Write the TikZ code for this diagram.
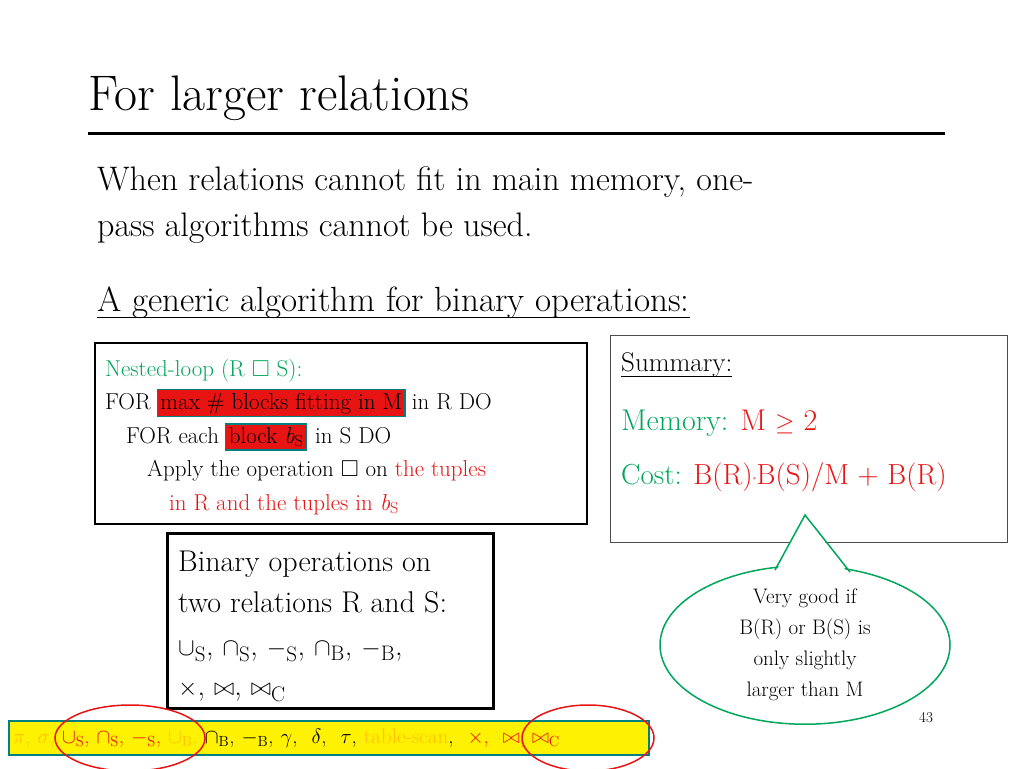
\documentclass[tikz,border=0pt]{standalone}
\usepackage{amsmath}
\usepackage{amssymb}
\usetikzlibrary{shapes.geometric,calc}
\definecolor{slgreen}{RGB}{0,166,90}
\definecolor{slred}{RGB}{232,20,20}
\definecolor{slorange}{RGB}{255,192,0}
\begin{document}
\begin{tikzpicture}[x=1pt,y=-1pt]
    \tikzset{txt/.style={anchor=base west, inner sep=0pt},
             hilite/.style={draw=teal, line width=1.2pt, fill=slred, inner sep=3pt, anchor=base west},
             ring/.style={draw=slred, line width=1.5pt}}
    \useasboundingbox (0,0) rectangle (1024,768);

    % Title
    \node[txt, font=\fontsize{50}{54}\selectfont] (title) at (88,110) {For larger relations};
    \draw[line width=3pt] (88,133) -- (945,133);

    % Intro text
    \node[txt, font=\fontsize{34}{38}\selectfont] (intro1) at (97,190) {When relations cannot fit in main memory, one-};
    \node[txt, font=\fontsize{34}{38}\selectfont] (intro2) at (97,236) {pass algorithms cannot be used.};
    \node[txt, font=\fontsize{35}{38}\selectfont] (generic) at (97,311) {A generic algorithm for binary operations:};
    \draw[line width=1pt] ([yshift=-6pt]generic.base west) -- ([yshift=-6pt]generic.base east);

    % Nested-loop box
    \draw[line width=1.5pt] (95,343) rectangle (587,524);
    \begin{scope}[font=\fontsize{23}{26}\selectfont]
        \node[txt, text=slgreen] (nl) at (105,376) {Nested-loop (R $\square$ S):};
        \node[txt] (for1) at (105,409) {FOR};
        \node[hilite] (maxb) at ([xshift=6pt]for1.base east) {max \# blocks fitting in M};
        \node[txt] (inr) at ([xshift=6pt]maxb.base east) {in R DO};
        \node[txt] (for2) at (126,443) {FOR each};
        \node[hilite] (blk) at ([xshift=6pt]for2.base east) {block \textit{b}\textsubscript{S}};
        \node[txt] (ins) at ([xshift=8pt]blk.base east) {in S DO};
        \node[txt] (apply) at (147,476) {Apply the operation $\square$ on \textcolor{slred}{the tuples}};
        \node[txt, text=slred] (inr2) at (169,510) {in R and the tuples in \textit{b}\textsubscript{S}};
    \end{scope}

    % Summary box
    \draw[line width=0.8pt, black!70] (610,335) rectangle (1007,542);
    \node[txt, font=\fontsize{27}{30}\selectfont] (sum) at (621,371) {Summary:};
    \draw[line width=0.8pt] ([yshift=-5pt]sum.base west) -- ([yshift=-5pt]sum.base east);
    \node[txt, font=\fontsize{30}{33}\selectfont, text=slgreen] (mem) at (621,430) {Memory: \textcolor{slred}{M $\geq$ 2}};
    \node[txt, font=\fontsize{29}{33}\selectfont, text=slgreen] (cost) at (621,484) {Cost: \textcolor{slred}{B(R)\raisebox{2pt}{\scriptsize*}B(S)/M + B(R)}};

    % Binary operations box
    \draw[line width=3pt] (167,533) rectangle (493,708);
    \begin{scope}[font=\fontsize{30}{33}\selectfont]
        \node[txt] (bin1) at (178,571) {Binary operations on};
        \node[txt] (bin2) at (178,612) {two relations R and S:};
        \node[txt] (bin3) at (178,655) {$\cup$\textsubscript{S}, $\cap$\textsubscript{S}, $-$\textsubscript{S}, $\cap$\textsubscript{B}, $-$\textsubscript{B},};
        \node[txt] (bin4) at (178,695) {$\times$, $\bowtie$, $\bowtie$\textsubscript{C}};
    \end{scope}

    % Callout
    \coordinate (tip) at (805,515);
    \node[ellipse, draw=slgreen, line width=1.5pt, fill=white, minimum width=290pt, minimum height=130pt, align=center,
          inner sep=0pt, font=\fontsize{21}{31}\selectfont] (call) at (805,645)
          {Very good if\\B(R) or B(S) is\\only slightly\\larger than M};
    \coordinate (cl) at ($(call.north)+(-30,5)$);
    \coordinate (cr) at ($(call.north)+(45,7)$);
    \fill[white] ($(cl)+(0,4)$) -- (tip) -- ($(cr)+(0,4)$) -- cycle;
    \draw[slgreen, line width=1.5pt] (cl) -- (tip) -- (cr);

    % Page number
    \node[font=\fontsize{15}{18}\selectfont] (pg) at (926,718) {43};

    % Operators strip
    \node[draw=teal, line width=2pt, fill=yellow, anchor=west, minimum height=34pt, text width=632pt, inner sep=4pt,
          font=\fontsize{21}{22}\selectfont] (ops) at (8,738)
          {\textcolor{slorange}{$\pi$, $\sigma$,} \textcolor{slred}{$\cup$\textsubscript{S}, $\cap$\textsubscript{S}, $-$\textsubscript{S},}
           \textcolor{slorange}{$\cup$\textsubscript{B},} $\cap$\textsubscript{B}, $-$\textsubscript{B}, $\gamma$, \ $\delta$, \ $\tau$,
           \textcolor{slorange}{table-scan}, \ \textcolor{slred}{$\times$, \ $\bowtie$, $\bowtie$\textsubscript{C}}};
    \node[ring, ellipse, minimum width=150pt, minimum height=66pt] (ring1) at (130,738) {};
    \node[ring, ellipse, minimum width=132pt, minimum height=66pt] (ring2) at (588,738) {};

\end{tikzpicture}
\end{document}
